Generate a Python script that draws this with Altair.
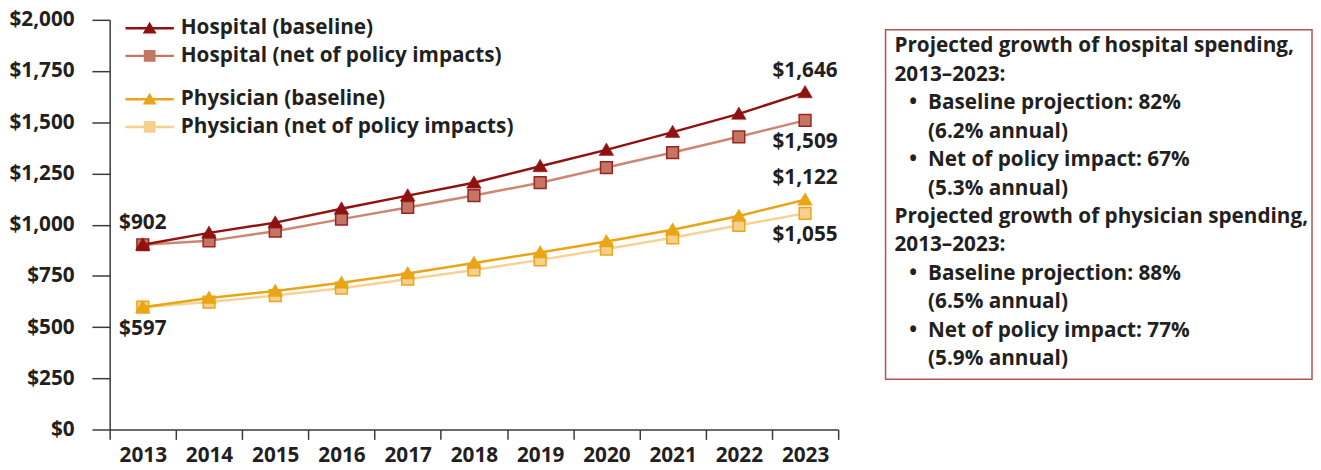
import altair as alt
import pandas as pd

FONT = "Open Sans"
FW = "bold"
FS = 21
TXT = "#231f20"

years = [2013, 2014, 2015, 2016, 2017, 2018, 2019, 2020, 2021, 2022, 2023]
hosp_base = [902, 960, 1010, 1078, 1142, 1205, 1285, 1365, 1452, 1541, 1646]
hosp_net = [902, 921, 968, 1027, 1084, 1142, 1205, 1279, 1352, 1429, 1509]
phys_base = [597, 642, 676, 716, 762, 813, 864, 918, 975, 1042, 1122]
phys_net = [597, 622, 654, 690, 734, 779, 828, 881, 936, 997, 1055]

HB, HN = "Hospital (baseline)", "Hospital (net of policy impacts)"
PB, PN = "Physician (baseline)", "Physician (net of policy impacts)"

y_ticks = [0, 250, 500, 750, 1000, 1250, 1500, 1750, 2000]

box_text = [
    "Projected growth of hospital spending,",
    "2013\u20132023:",
    "Baseline projection: 82%",
    "(6.2% annual)",
    "Net of policy impact: 67%",
    "(5.3% annual)",
    "Projected growth of physician spending,",
    "2013\u20132023:",
    "Baseline projection: 88%",
    "(6.5% annual)",
    "Net of policy impact: 77%",
    "(5.9% annual)",
]
box_kind = ["head", "head", "bullet", "cont", "bullet", "cont",
            "head", "head", "bullet", "cont", "bullet", "cont"]

# colours
C_HB = "#8f1210"
C_HN_LINE, C_HN_FILL, C_HN_EDGE = "#cd8672", "#c47563", "#9b2420"
C_PB = "#e9a516"
C_PN_LINE, C_PN_FILL, C_PN_EDGE = "#f6d394", "#f6cf8c", "#eaa51a"

TRI = "M-1,0.75L0,-0.95L1,0.75Z"
SQ = "M-0.85,-0.85H0.85V0.85H-0.85Z"
TRI_LEG = "M-3.5,-0.18H3.5V0.18H-3.5Z M-1,0.75L0,-0.95L1,0.75Z"
SQ_LEG = "M-3.5,-0.18H3.5V0.18H-3.5Z M-0.85,-0.85H0.85V0.85H-0.85Z"

rows = []
for name, vals in [(HB, hosp_base), (HN, hosp_net), (PB, phys_base), (PN, phys_net)]:
    for yr, v in zip(years, vals):
        rows.append({"series": name, "year": yr, "value": v})
df = pd.DataFrame(rows)

X = alt.X(
    "year:O",
    bandPosition=0.5,
    scale=alt.Scale(type="band", paddingInner=0, paddingOuter=0),
    axis=alt.Axis(
        title=None, labelAngle=0, tickBand="extent", tickSize=10, tickWidth=1.5,
        tickColor="#3a3a3a", domainColor="#3a3a3a", domainWidth=1.5,
        labelFont=FONT, labelFontSize=FS, labelFontWeight=FW, labelColor=TXT,
        labelPadding=5,
    ),
)
Y = alt.Y(
    "value:Q",
    scale=alt.Scale(domain=[0, 2000], nice=False, zero=True),
    axis=alt.Axis(
        title=None, values=y_ticks, format="$,.0f", grid=False, tickSize=18,
        tickWidth=1.5, tickColor="#3a3a3a", domainColor="#3a3a3a", domainWidth=1.5,
        labelFont=FONT, labelFontSize=FS, labelFontWeight=FW, labelColor=TXT,
        labelPadding=18,
    ),
)


def group(base_name, net_name, base_col, net_line, net_fill, net_edge, ly):
    leg = alt.Legend(
        title=None, orient="none", legendX=30, legendY=ly, padding=0,
        symbolSize=196, symbolStrokeWidth=0, symbolOpacity=1,
        labelFont=FONT, labelFontSize=FS, labelFontWeight=FW, labelColor=TXT,
        labelOffset=21, rowPadding=6, labelLimit=500,
    )
    base = alt.Chart(df)
    net_line_l = base.transform_filter(alt.datum.series == net_name).mark_line(
        strokeWidth=2.5, color=net_line).encode(x=X, y=Y)
    net_pts = base.transform_filter(alt.datum.series == net_name).mark_point(
        shape=SQ, size=196, filled=True, fill=net_fill, stroke=net_edge,
        strokeWidth=1.5, opacity=1).encode(x=X, y=Y)
    base_line_l = base.transform_filter(alt.datum.series == base_name).mark_line(
        strokeWidth=2.5, color=base_col).encode(x=X, y=Y)
    base_pts = base.transform_filter(alt.datum.series == base_name).mark_point(
        shape=TRI, size=220, filled=True, fill=base_col, stroke=base_col,
        strokeWidth=0.5, opacity=1).encode(x=X, y=Y)
    legend_layer = base.transform_filter(
        alt.FieldOneOfPredicate(field="series", oneOf=[base_name, net_name])
    ).mark_point(size=0, filled=True, strokeWidth=0, opacity=1).encode(
        x=X, y=Y,
        color=alt.Color("series:N", scale=alt.Scale(domain=[base_name, net_name],
                                                    range=[base_col, net_fill]), legend=leg),
        shape=alt.Shape("series:N", scale=alt.Scale(domain=[base_name, net_name],
                                                    range=[TRI_LEG, SQ_LEG]), legend=leg),
    )
    return alt.layer(net_line_l, net_pts, base_line_l, base_pts, legend_layer)


hosp = group(HB, HN, C_HB, C_HN_LINE, C_HN_FILL, C_HN_EDGE, -2)
phys = group(PB, PN, C_PB, C_PN_LINE, C_PN_FILL, C_PN_EDGE, 70)

ends = df[((df.year == 2013) & (df.series.isin([HB, PB]))) |
          ((df.year == 2023))].copy()
ends["label"] = ends["value"].map(lambda v: "${:,.0f}".format(v))
above = ends[((ends.year == 2013) & (ends.series == HB)) |
             ((ends.year == 2023) & (ends.series.isin([HB, PB])))]
below = ends[((ends.year == 2013) & (ends.series == PB)) |
             ((ends.year == 2023) & (ends.series.isin([HN, PN])))]

txt_kw = dict(font=FONT, fontSize=FS, fontWeight=FW, color=TXT,
              align="center", baseline="middle")
lab_above = alt.Chart(above).mark_text(dy=-22, **txt_kw).encode(x=X, y=Y, text="label:N")
lab_below = alt.Chart(below).mark_text(dy=22, **txt_kw).encode(x=X, y=Y, text="label:N")

main = alt.layer(hosp, phys, lab_above, lab_below).resolve_scale(
    color="independent", shape="independent").properties(width=738, height=415)

box_df = pd.DataFrame({"idx": list(range(len(box_text))), "text": box_text, "kind": box_kind})
BY = alt.Y("idx:Q", scale=alt.Scale(domain=[-0.59, 11.70], nice=False, zero=False,
                                    reverse=True), axis=None)
btxt = dict(font=FONT, fontSize=FS, fontWeight=FW, color=TXT, align="left",
            baseline="middle")
bb = alt.Chart(box_df)
heads = bb.transform_filter(alt.datum.kind == "head").mark_text(**btxt).encode(
    x=alt.value(9), y=BY, text="text:N")
items = bb.transform_filter(alt.datum.kind != "head").mark_text(**btxt).encode(
    x=alt.value(43), y=BY, text="text:N")
dots = bb.transform_filter(alt.datum.kind == "bullet").mark_text(**btxt).encode(
    x=alt.value(24), y=BY, text=alt.value("\u2022"))
box = alt.layer(heads, items, dots).properties(
    width=432, height=354,
    view=alt.ViewBackground(stroke="#b8524e", strokeWidth=1.5),
)
spacer = bb.mark_text(opacity=0).encode(text=alt.value("")).properties(
    width=432, height=1, view=alt.ViewBackground(strokeWidth=0))
right = alt.vconcat(spacer, box, spacing=3)

chart = alt.hconcat(main, right, spacing=46).properties(
    padding={"left": 0, "top": -2, "right": 0, "bottom": 0}
).configure_view(strokeWidth=0)

chart.save("out.html", embed_options={"renderer": "svg", "actions": False})
